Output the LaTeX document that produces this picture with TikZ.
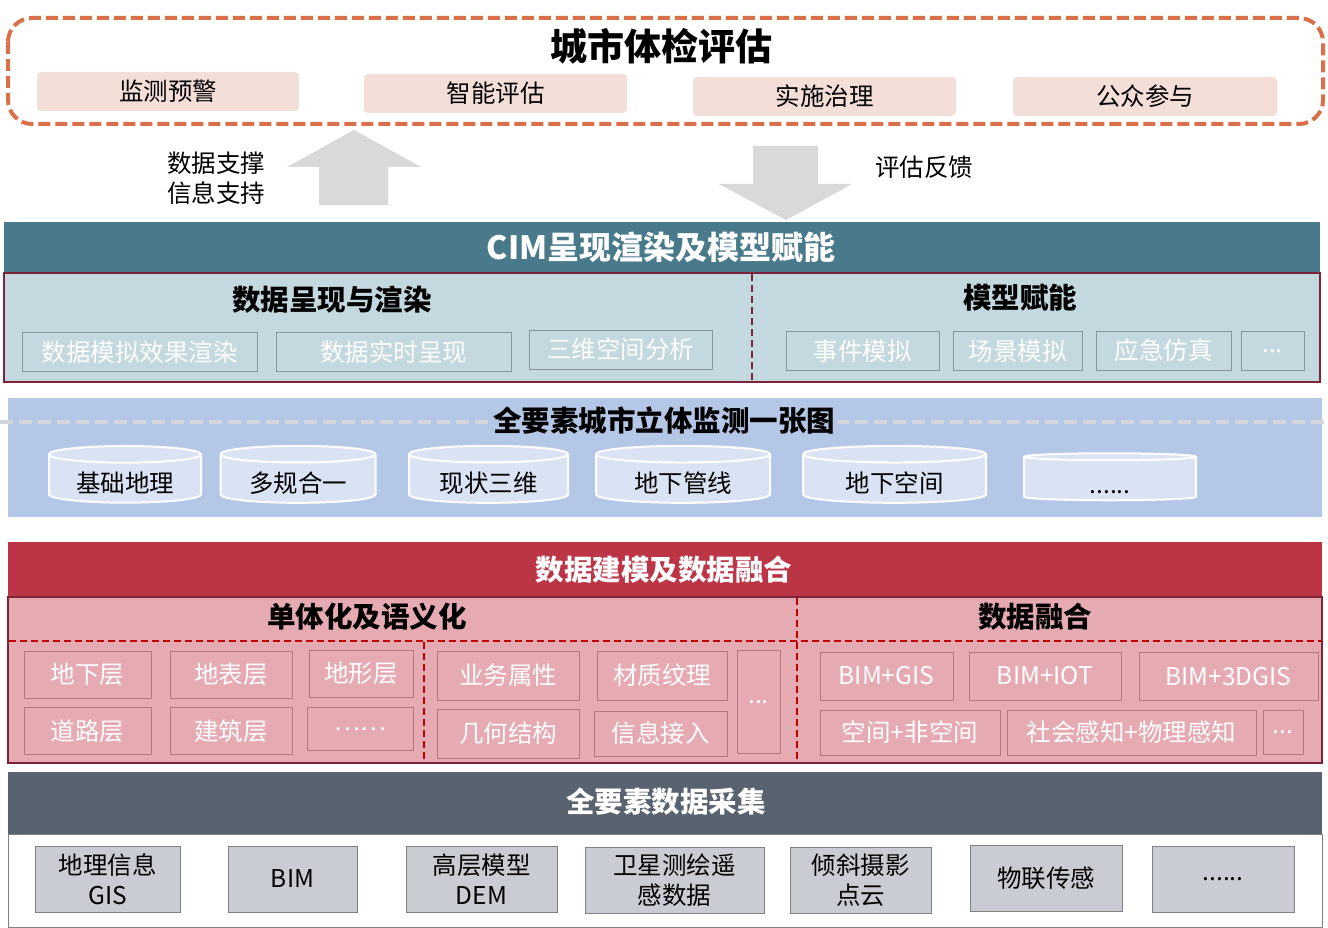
\documentclass[tikz,border=0pt]{standalone}
\usepackage{fontspec}
\setmainfont{Noto Sans CJK SC}
\usetikzlibrary{shapes.geometric,positioning}

\definecolor{evalorange}{RGB}{217,112,74}
\definecolor{evalpink}{RGB}{244,222,216}
\definecolor{arrowgray}{RGB}{217,217,217}
\definecolor{cimteal}{RGB}{72,122,140}
\definecolor{cimpanel}{RGB}{195,216,223}
\definecolor{cimedge}{RGB}{135,150,158}
\definecolor{maroon}{RGB}{125,35,55}
\definecolor{monblue}{RGB}{180,199,231}
\definecolor{drumblue}{RGB}{218,227,243}
\definecolor{dashgray}{RGB}{210,214,220}
\definecolor{modred}{RGB}{188,53,71}
\definecolor{modpanel}{RGB}{230,170,178}
\definecolor{modedge}{RGB}{175,120,130}
\definecolor{moddash}{RGB}{192,0,0}
\definecolor{colslate}{RGB}{89,99,111}
\definecolor{colgray}{RGB}{201,205,211}
\definecolor{coledge}{RGB}{128,128,128}

\tikzset{
    txt/.style={font=\fontsize{24.5}{30}\selectfont},
    headtxt/.style={font=\bfseries\fontsize{28.5}{32}\selectfont},
    evalbox/.style={txt, fill=evalpink, rounded corners=4pt, minimum height=39, inner sep=0pt},
    cimbox/.style={txt, draw=cimedge, line width=1, text=white, minimum height=39, inner sep=0pt},
    drum/.style={txt, cylinder, shape border rotate=90, aspect=0.17, draw=white, line width=2,
        fill=drumblue, minimum height=47, inner sep=0pt, text height=29pt},
    modbox/.style={txt, draw=modedge, line width=1, text=white, inner sep=0pt},
    colbox/.style={txt, draw=coledge, line width=1, fill=colgray, align=center, minimum height=66, inner sep=0pt},
    splitline/.style={line width=1.3, dash pattern=on 7pt off 4pt}
}

\begin{document}
\begin{tikzpicture}[x=1pt,y=-1pt]
    \useasboundingbox (0,0) rectangle (1328,928);
    \fill[white] (0,0) rectangle (1328,928);

    % city check
    \draw[evalorange, line width=4, dash pattern=on 12pt off 5pt, rounded corners=24] (8,18) rectangle (1323,124);
    \node[font=\bfseries\fontsize{37}{40}\selectfont] (evaltitle) at (661,46) {城市体检评估};
    \node[evalbox, minimum width=262] (monitor) at (168,91.5) {监测预警};
    \node[evalbox, minimum width=263] (assess) at (495.5,93.5) {智能评估};
    \node[evalbox, minimum width=263] (govern) at (824.5,96.5) {实施治理};
    \node[evalbox, minimum width=264] (public) at (1145,96.5) {公众参与};

    % arrows
    \fill[arrowgray] (319,205) -- (319,167) -- (287,167) -- (354,130) -- (421,167) -- (388,167) -- (388,205) -- cycle;
    \fill[arrowgray] (753,146) -- (753,184) -- (719,184) -- (786,220) -- (852,184) -- (818,184) -- (818,146) -- cycle;
    \node[txt, align=center] (support) at (216,178) {数据支撑\\信息支持};
    \node[txt] (feedback) at (924,167) {评估反馈};

    % CIM
    \fill[cimteal] (4,222) rectangle (1320,273);
    \node[font=\bfseries\fontsize{32}{36}\selectfont, text=white] (cimtitle) at (661,247) {CIM呈现渲染及模型赋能};
    \draw[maroon, line width=1.5, fill=cimpanel] (4,273) rectangle (1320,382);
    \draw[maroon, splitline] (752,274) -- (752,381);
    \node[headtxt] (render) at (332,300) {数据呈现与渲染};
    \node[headtxt] (enable) at (1020,298) {模型赋能};
    \node[cimbox, minimum width=235] (cimA) at (139.5,352) {数据模拟效果渲染};
    \node[cimbox, minimum width=235] (cimB) at (393.5,352) {数据实时呈现};
    \node[cimbox, minimum width=183] (cimC) at (620.5,349.5) {三维空间分析};
    \node[cimbox, minimum width=153] (cimD) at (862.5,351) {事件模拟};
    \node[cimbox, minimum width=129] (cimE) at (1017.5,351) {场景模拟};
    \node[cimbox, minimum width=135] (cimF) at (1163.5,350.5) {应急仿真};
    \node[cimbox, minimum width=63] (cimG) at (1272.5,351) {...};

    % monitoring map
    \fill[monblue] (8,398) rectangle (1322,517);
    \draw[dashgray, line width=4, dash pattern=on 13pt off 6pt] (0,422) -- (1328,422);
    \node[headtxt, fill=monblue, inner xsep=3pt] (montitle) at (664,421) {全要素城市立体监测一张图};
    \node[drum, minimum width=152] (geo) at (125,479) {基础地理};
    \node[drum, minimum width=155] (plan) at (298,479) {多规合一};
    \node[drum, minimum width=159] (now3d) at (488.5,479) {现状三维};
    \node[drum, minimum width=174] (pipe) at (683,479) {地下管线};
    \node[drum, minimum width=183] (under) at (894.5,479) {地下空间};
    \node[drum, minimum width=172] (more) at (1110,479) {......};

    % modeling and fusion
    \fill[modred] (8,542) rectangle (1322,597);
    \node[font=\bfseries\fontsize{28.5}{32}\selectfont, text=white] (modtitle) at (664,570) {数据建模及数据融合};
    \draw[maroon, line width=1.5, fill=modpanel] (8,597) rectangle (1322,763);
    \draw[moddash, splitline] (9,641) -- (1321,641);
    \draw[moddash, splitline] (797,598) -- (797,762);
    \draw[moddash, splitline] (424,642) -- (424,762);
    \node[headtxt] (single) at (367,617) {单体化及语义化};
    \node[headtxt] (fusion) at (1035,617) {数据融合};

    \node[modbox, minimum width=127, minimum height=47] (lyrA) at (87.5,674.5) {地下层};
    \node[modbox, minimum width=122, minimum height=47] (lyrB) at (231,674.5) {地表层};
    \node[modbox, minimum width=104, minimum height=47] (lyrC) at (361,673.5) {地形层};
    \node[modbox, minimum width=127, minimum height=47] (lyrD) at (87.5,731) {道路层};
    \node[modbox, minimum width=122, minimum height=47] (lyrE) at (231,731) {建筑层};
    \node[modbox, minimum width=106, minimum height=43] (lyrF) at (360,729) {……};

    \node[modbox, minimum width=142, minimum height=49] (attrA) at (508,675.5) {业务属性};
    \node[modbox, minimum width=130, minimum height=49] (attrB) at (662,675.5) {材质纹理};
    \node[modbox, minimum width=142, minimum height=49] (attrC) at (508,733.5) {几何结构};
    \node[modbox, minimum width=133, minimum height=45] (attrD) at (660.5,733.5) {信息接入};
    \node[modbox, minimum width=43, minimum height=103] (attrE) at (758.5,702) {...};

    \node[modbox, minimum width=133, minimum height=48] (fuseA) at (886.5,676) {BIM+GIS};
    \node[modbox, minimum width=152, minimum height=48] (fuseB) at (1045,676) {BIM+IOT};
    \node[modbox, minimum width=179, minimum height=48] (fuseC) at (1228.5,676.5) {BIM+3DGIS};
    \node[modbox, minimum width=180, minimum height=45] (fuseD) at (910,732.5) {空间+非空间};
    \node[modbox, minimum width=249, minimum height=45] (fuseE) at (1131.5,732.5) {社会感知+物理感知};
    \node[modbox, minimum width=40, minimum height=44] (fuseF) at (1283,732) {...};

    % data collection
    \fill[colslate] (8,772) rectangle (1322,834);
    \node[font=\bfseries\fontsize{28.5}{32}\selectfont, text=white] (coltitle) at (666,802) {全要素数据采集};
    \draw[coledge, line width=1, fill=white] (8,834) rectangle (1322,927);
    \node[colbox, minimum width=145] (gis) at (107.5,879) {地理信息\\GIS};
    \node[colbox, minimum width=129] (bim) at (292.5,879) {BIM};
    \node[colbox, minimum width=151] (dem) at (481.5,879) {高层模型\\DEM};
    \node[colbox, minimum width=179] (sat) at (674.5,880) {卫星测绘遥\\感数据};
    \node[colbox, minimum width=141] (oblique) at (860.5,880) {倾斜摄影\\点云};
    \node[colbox, minimum width=152] (iot) at (1046,878.5) {物联传感};
    \node[colbox, minimum width=142] (etc) at (1223,879) {......};
\end{tikzpicture}
\end{document}
